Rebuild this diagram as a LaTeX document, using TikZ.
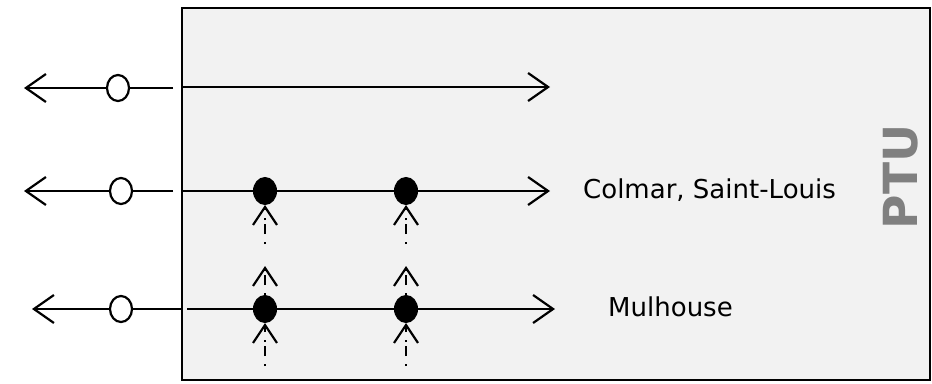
\documentclass[tikz,border=0pt]{standalone}
\usepackage{fontspec}
\setmainfont{DejaVu Sans}
\usepackage{tikz}
\usetikzlibrary{shapes.geometric, arrows.meta, positioning, calc}
\definecolor{panel}{HTML}{F2F2F2}
\definecolor{ptugray}{HTML}{808080}

\tikzset{
    wire/.style={line width=2.2pt},
    barb/.style={wire, -{Straight Barb[length=20pt, width=28pt, line width=2.2pt]}},
    feed/.style={line width=2.2pt, dash pattern=on 2pt off 8pt on 10pt off 4pt, -{Straight Barb[length=18pt, width=24pt, line width=2.2pt]}},
    port/.style={draw, ellipse, line width=2.2pt, fill=white, minimum width=22pt, minimum height=26pt, inner sep=0pt},
    junction/.style={draw, ellipse, line width=1pt, fill=black, minimum width=23pt, minimum height=27pt, inner sep=0pt},
    city/.style={font=\fontsize{26}{30}\selectfont, anchor=west, inner sep=0pt}
}

\begin{document}
\begin{tikzpicture}[x=1pt, y=-1pt]
                \useasboundingbox (0,0) rectangle (932,383);
                \node[draw, line width=2.4pt, fill=panel, minimum width=748pt, minimum height=372pt, anchor=north west, inner sep=0pt] (ptu) at (181,7) {};
                \node[font=\bfseries\fontsize{47}{50}\selectfont, text=ptugray, rotate=90] (label) at (901,177) {PTU};

                % left side ports
                \node[port] (p1) at (118,88) {};
                \node[port] (p2) at (121,191) {};
                \node[port] (p3) at (121,309) {};
                \coordinate (e1) at (173,88);
                \coordinate (e2) at (173,191);
                \coordinate (e3) at (181,309);
                \coordinate (w1) at (24,88);
                \coordinate (w2) at (24,191);
                \coordinate (w3) at (32,309);

                \draw[wire] (e1) -- (p1);
                \draw[barb] (p1) -- (w1);
                \draw[wire] (e2) -- (p2);
                \draw[barb] (p2) -- (w2);
                \draw[wire] (e3) -- (p3);
                \draw[barb] (p3) -- (w3);

                % lines through the box
                \coordinate (s1) at (181,87);
                \coordinate (s2) at (181,191);
                \coordinate (s3) at (187,309);
                \coordinate (t1) at (550,87);
                \coordinate (t2) at (550,191);
                \coordinate (t3) at (555,309);
                \draw[barb] (s1) -- (t1);
                \draw[barb] (s2) -- (t2);
                \draw[barb] (s3) -- (t3);

                \node[junction] (j21) at (265,191) {};
                \node[junction] (j22) at (406,191) {};
                \node[junction] (j31) at (265,309) {};
                \node[junction] (j32) at (406,309) {};

                % dashed feeders
                \coordinate (f21) at (265,244);
                \coordinate (f22) at (406,244);
                \coordinate (u31) at (265,266);
                \coordinate (u32) at (406,266);
                \coordinate (f31) at (265,366);
                \coordinate (f32) at (406,366);
                \draw[feed] (f21) -- (j21.south);
                \draw[feed] (f22) -- (j22.south);
                \draw[feed] (j31.north) -- (u31);
                \draw[feed] (j32.north) -- (u32);
                \draw[feed] (f31) -- (j31.south);
                \draw[feed] (f32) -- (j32.south);

                \node[city] (colmar) at (583,190) {Colmar, Saint-Louis};
                \node[city] (mulhouse) at (608,307) {Mulhouse};
            \end{tikzpicture}
\end{document}
